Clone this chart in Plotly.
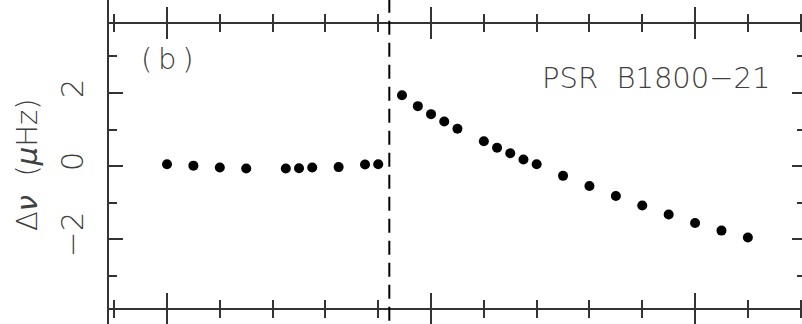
import plotly.graph_objects as go

# Data (epoch in years, frequency residual in microHz)
pre_epoch = [1990.00, 1990.10, 1990.20, 1990.30, 1990.45, 1990.50, 1990.55, 1990.65, 1990.75, 1990.80]
pre_dnu = [0.05, 0.01, -0.04, -0.07, -0.07, -0.06, -0.04, -0.03, 0.04, 0.05]
post_epoch = [1990.89, 1990.95, 1991.00, 1991.05, 1991.10, 1991.20, 1991.25, 1991.30, 1991.35,
              1991.40, 1991.50, 1991.60, 1991.70, 1991.80, 1991.90, 1992.00, 1992.10, 1992.20]
post_dnu = [1.94, 1.64, 1.42, 1.22, 1.02, 0.68, 0.50, 0.35, 0.18,
            0.05, -0.27, -0.55, -0.82, -1.08, -1.33, -1.56, -1.77, -1.96]
glitch_epoch = 1990.842
y_tickvals = [-2, 0, 2]
y_ticktext = ["\u22122", "0", "2"]
panel_label = "(\u2009b\u2009)"
pulsar_name = "PSR\u00a0\u00a0B1800\u221221"
y_title = "\u0394<i>\u03bd</i>\u00a0\u00a0(<i>\u03bc</i>Hz)"

W, H = 802, 324
L, R, T, B = 108, 0, 24, 16
ink = "#333333"
txt = "#404040"

fig = go.Figure()
fig.add_trace(go.Scatter(x=pre_epoch + post_epoch, y=pre_dnu + post_dnu, mode="markers",
                         marker=dict(size=10, color="black"), showlegend=False, hoverinfo="skip"))
fig.add_trace(go.Scatter(x=[glitch_epoch], y=[0], xaxis="x2", yaxis="y2", mode="markers",
                         marker=dict(size=1, opacity=0), showlegend=False, hoverinfo="skip"))

xrange = [1989.7765, 1992.405]
yrange = [-3.89, 3.89]

fig.update_layout(
    width=W, height=H, margin=dict(l=L, r=R, t=T, b=B),
    paper_bgcolor="white", plot_bgcolor="white",
    font=dict(family="DejaVu Sans", color=txt),
    xaxis=dict(range=xrange, showgrid=False, zeroline=False, showticklabels=False,
               tick0=1990, dtick=1, ticks="outside", ticklen=15, tickwidth=1.6, tickcolor=ink,
               showline=True, linewidth=2, linecolor=ink, mirror="ticks",
               minor=dict(ticks="outside", tick0=1990, dtick=0.2, ticklen=8, tickwidth=1.6, tickcolor=ink)),
    xaxis2=dict(range=xrange, overlaying="x", matches="x", showgrid=False, zeroline=False,
                showticklabels=False, tick0=1990, dtick=1, ticks="inside", ticklen=15, tickwidth=1.6,
                tickcolor=ink, showline=False, mirror="ticks",
                minor=dict(ticks="inside", tick0=1990, dtick=0.2, ticklen=8, tickwidth=1.6, tickcolor=ink)),
    yaxis=dict(range=yrange, showgrid=False, zeroline=False, showline=False,
               tickvals=y_tickvals, ticktext=y_ticktext, ticks="inside", ticklen=15, tickwidth=1.6,
               tickcolor=ink, tickangle=-90, ticklabelstandoff=18,
               tickfont=dict(size=31, color=txt, family="DejaVu Sans", weight=300),
               minor=dict(ticks="inside", dtick=1, tick0=0, ticklen=9, tickwidth=1.6, tickcolor=ink)),
    yaxis2=dict(range=yrange, overlaying="y", matches="y", side="right", showgrid=False, zeroline=False,
                showline=False, showticklabels=False, tickvals=y_tickvals, ticks="inside", ticklen=10,
                tickwidth=1.6, tickcolor=ink,
                minor=dict(ticks="inside", dtick=1, tick0=0, ticklen=5, tickwidth=1.6, tickcolor=ink)),
)

# left frame line continuing through neighbouring panels
fig.add_shape(type="line", xref="paper", yref="paper", x0=0, x1=0, y0=-0.2, y1=1.2,
              line=dict(color=ink, width=2))
# glitch epoch marker
fig.add_shape(type="line", xref="x", yref="paper", x0=glitch_epoch, x1=glitch_epoch, y0=-0.2, y1=1.2,
              line=dict(color="black", width=2, dash="14px,8px"))

pw = W - L - R
ph = H - T - B
def px(xp):
    return (xp - L) / pw
def py(yp):
    return 1 - (yp - T) / ph

fig.add_annotation(text=panel_label, xref="paper", yref="paper", x=px(167), y=py(58.5),
                   xanchor="center", yanchor="middle", showarrow=False,
                   font=dict(size=29, color=txt, family="DejaVu Sans", weight=300))
fig.add_annotation(text=pulsar_name, xref="paper", yref="paper", x=px(656), y=py(78),
                   xanchor="center", yanchor="middle", showarrow=False,
                   font=dict(size=29, color=txt, family="DejaVu Sans", weight=300))
fig.add_annotation(text=y_title, xref="paper", yref="paper", x=px(27), y=py(165),
                   xanchor="center", yanchor="middle", showarrow=False, textangle=-90,
                   font=dict(size=29, color=txt, family="DejaVu Sans", weight=300))

fig.write_html("out.html")
